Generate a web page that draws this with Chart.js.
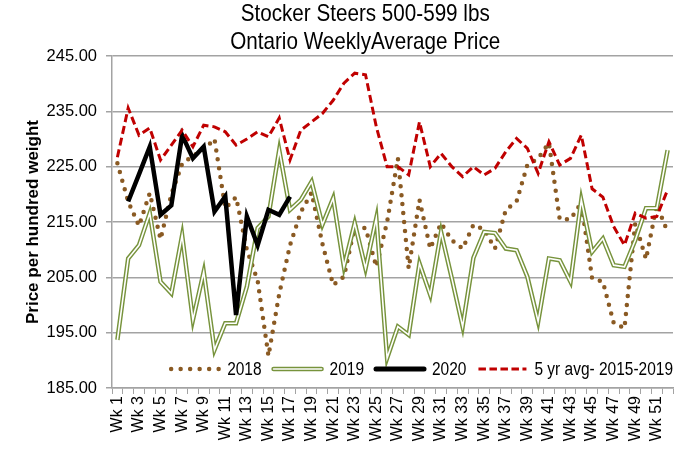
<!DOCTYPE html>
<html>
<head>
<meta charset="utf-8">
<script src="https://cdn.jsdelivr.net/npm/chart.js@4.4.1/dist/chart.umd.min.js"></script>
<style>
  html, body { margin: 0; padding: 0; background: #fff; }
  #wrap { width: 697px; height: 466px; }
</style>
</head>
<body>
<div id="wrap"><canvas id="steerChart"></canvas></div>
<script>
// weekly price data, $ per hundred weight
const weeks = ['Wk 1', 'Wk 2', 'Wk 3', 'Wk 4', 'Wk 5', 'Wk 6', 'Wk 7', 'Wk 8', 'Wk 9', 'Wk 10',
    'Wk 11', 'Wk 12', 'Wk 13', 'Wk 14', 'Wk 15', 'Wk 16', 'Wk 17', 'Wk 18', 'Wk 19', 'Wk 20',
    'Wk 21', 'Wk 22', 'Wk 23', 'Wk 24', 'Wk 25', 'Wk 26', 'Wk 27', 'Wk 28', 'Wk 29', 'Wk 30',
    'Wk 31', 'Wk 32', 'Wk 33', 'Wk 34', 'Wk 35', 'Wk 36', 'Wk 37', 'Wk 38', 'Wk 39', 'Wk 40',
    'Wk 41', 'Wk 42', 'Wk 43', 'Wk 44', 'Wk 45', 'Wk 46', 'Wk 47', 'Wk 48', 'Wk 49', 'Wk 50',
    'Wk 51', 'Wk 52'];

const price2018 = [225.6, 218.7, 214.3, 220.2, 211.9, 220.0, 225.5, 227.0, 228.0, 230.0,
    217.5, 219.5, 210.0, 204.4, 190.8, 202.0, 210.8, 216.8, 220.3, 211.1,
    203.6, 205.1, 214.2, 213.9, 206.9, 215.0, 226.5, 206.6, 219.0, 210.2,
    214.8, 211.7, 210.2, 214.5, 213.6, 210.2, 217.2, 218.7, 225.3, 226.5,
    229.3, 215.5, 215.5, 218.5, 204.8, 204.2, 196.8, 195.8, 214.8, 208.3,
    218.1, 213.2];

const price2019 = [193.7, 208.4, 210.8, 216.6, 204.2, 202.1, 212.6, 197.3, 206.0, 191.9,
    196.7, 196.7, 203.3, 213.9, 216.0, 228.0, 217.2, 219.0, 222.3, 214.5,
    219.3, 206.9, 214.8, 206.6, 215.7, 190.4, 196.1, 194.6, 207.5, 201.8,
    213.2, 204.8, 196.1, 208.5, 213.2, 213.0, 210.2, 209.9, 205.1, 197.0,
    208.4, 208.1, 204.2, 219.0, 209.6, 212.0, 207.2, 206.9, 211.7, 217.5,
    217.5, 228.0];

const price2020 = [null, 218.7, 223.6, 228.6, 216.3, 218.0, 230.7, 226.5, 228.6, 216.9,
    219.6, 198.2, 216.0, 210.8, 217.2, 216.3, 219.6];

const avg5yr = [226.7, 235.6, 230.7, 232.0, 226.2, 228.9, 231.6, 228.6, 232.5, 232.2,
    231.3, 228.9, 230.0, 231.3, 230.4, 233.8, 226.2, 231.6, 233.1, 234.6,
    237.0, 240.1, 241.9, 241.6, 232.2, 225.0, 225.0, 223.5, 233.1, 225.0,
    227.4, 225.0, 223.2, 225.0, 223.5, 224.7, 227.7, 230.1, 228.3, 223.8,
    229.5, 225.3, 226.5, 230.7, 221.0, 219.5, 214.2, 210.8, 216.6, 215.7,
    216.0, 220.8];

const yTicks = [185, 195, 205, 215, 225, 235, 245];
const titleLines = ['Stocker Steers 500-599 lbs', 'Ontario WeeklyAverage Price'];
const legendLabels = ['2018', '2019', '2020', '5 yr avg- 2015-2019'];

const FONT = "'Liberation Sans', Arial, sans-serif";
const GRID = '#a3a3a3';
const BROWN = '#8a5a23';
const OLIVE = '#77933c';
const RED = '#c00000';
const SQUEEZE = 0.86; // the original lettering is narrow

// two-line title, sits a bit left of the plot centre like the original
const titlePlugin = {
    id: 'twoLineTitle',
    afterDraw(chart) {
        const ctx = chart.ctx;
        const cx = chart.width * 0.524;
        ctx.save();
        ctx.fillStyle = '#000';
        ctx.font = '24px ' + FONT;
        ctx.textAlign = 'center';
        ctx.textBaseline = 'alphabetic';
        ctx.translate(cx, 0);
        ctx.scale(SQUEEZE, 1);
        ctx.fillText(titleLines[0], 0, 21);
        ctx.fillText(titleLines[1], 0, 49);
        ctx.restore();
    }
};

// legend drawn inside the plot, along the bottom, right aligned
function drawSample(ctx, i, x0, x1, y) {
    ctx.save();
    ctx.beginPath();
    ctx.moveTo(x0, y);
    ctx.lineTo(x1, y);
    if (i === 0) {
        ctx.strokeStyle = BROWN; ctx.lineWidth = 4.5; ctx.lineCap = 'round';
        ctx.setLineDash([0, 9.5]);
        ctx.stroke();
    } else if (i === 1) {
        ctx.strokeStyle = OLIVE; ctx.lineWidth = 4.5; ctx.lineCap = 'round';
        ctx.stroke();
        ctx.strokeStyle = '#fff'; ctx.lineWidth = 1.6;
        ctx.stroke();
    } else if (i === 2) {
        ctx.strokeStyle = '#000'; ctx.lineWidth = 5; ctx.lineCap = 'round';
        ctx.stroke();
    } else {
        ctx.strokeStyle = RED; ctx.lineWidth = 3; ctx.lineCap = 'butt';
        ctx.setLineDash([7.5, 3.5]);
        ctx.stroke();
    }
    ctx.restore();
}

const legendPlugin = {
    id: 'insideLegend',
    afterDatasetsDraw(chart) {
        const ctx = chart.ctx;
        const area = chart.chartArea;
        const sample = 52, gapText = 6, gapItem = 10;
        ctx.save();
        ctx.font = '18px ' + FONT;
        const widths = legendLabels.map(t => ctx.measureText(t).width * SQUEEZE);
        let total = 0;
        widths.forEach((w, i) => { total += sample + gapText + w + (i < widths.length - 1 ? gapItem : 0); });
        let x = area.right - total;
        const y = area.bottom - 19;
        ctx.textBaseline = 'middle';
        ctx.fillStyle = '#000';
        legendLabels.forEach((t, i) => {
            drawSample(ctx, i, x + 2, x + sample - 2, y);
            x += sample + gapText;
            ctx.save();
            ctx.translate(x, y + 1);
            ctx.scale(SQUEEZE, 1);
            ctx.fillText(t, 0, 0);
            ctx.restore();
            x += widths[i] + gapItem;
        });
        ctx.restore();
    }
};

new Chart(document.getElementById('steerChart'), {
    type: 'line',
    data: {
        labels: weeks,
        datasets: [
            {
                label: '5 yr avg- 2015-2019',
                data: avg5yr,
                borderColor: RED,
                borderWidth: 3,
                borderDash: [8, 4],
                pointRadius: 0,
                order: 0
            },
            {
                label: '2020',
                data: price2020,
                borderColor: '#000',
                borderWidth: 4.5,
                pointRadius: 0,
                order: 1
            },
            {
                label: '2019 inner',
                data: price2019,
                borderColor: '#fff',
                borderWidth: 1.6,
                pointRadius: 0,
                order: 2
            },
            {
                label: '2019',
                data: price2019,
                borderColor: OLIVE,
                borderWidth: 4.5,
                pointRadius: 0,
                order: 3
            },
            {
                label: '2018',
                data: price2018,
                borderColor: BROWN,
                borderWidth: 4.5,
                borderDash: [0, 9],
                borderCapStyle: 'round',
                pointRadius: 0,
                order: 4
            }
        ]
    },
    options: {
        responsive: true,
        maintainAspectRatio: false,
        animation: false,
        layout: { padding: { top: 56, right: 24, left: 0, bottom: 0 } },
        plugins: {
            legend: { display: false },
            tooltip: { enabled: false }
        },
        scales: {
            x: {
                offset: true,
                grid: { offset: true, drawOnChartArea: false, tickLength: 6, color: GRID, lineWidth: 1 },
                border: { color: GRID, width: 1.5 },
                ticks: {
                    autoSkip: false,
                    minRotation: 90,
                    maxRotation: 90,
                    padding: 2,
                    color: '#000',
                    font: { family: FONT, size: 16 },
                    callback: function (v, i) { return i % 2 === 0 ? this.getLabelForValue(v) : ''; }
                },
                afterFit: s => { s.height = 78; }
            },
            y: {
                min: yTicks[0],
                max: yTicks[yTicks.length - 1],
                afterBuildTicks: s => { s.ticks = yTicks.map(v => ({ value: v })); },
                grid: { color: GRID, lineWidth: 1.5, tickLength: 6 },
                border: { color: GRID, width: 1.5 },
                ticks: {
                    padding: 9,
                    color: '#000',
                    font: { family: FONT, size: 16.5 },
                    callback: v => v.toFixed(2)
                },
                title: {
                    display: true,
                    text: 'Price per hundred weight',
                    color: '#000',
                    font: { family: FONT, size: 17, weight: 'bold' },
                    padding: { top: 23, bottom: 0 }
                },
                afterFit: s => { s.width = 112; }
            }
        }
    },
    plugins: [titlePlugin, legendPlugin]
});
</script>
</body>
</html>
